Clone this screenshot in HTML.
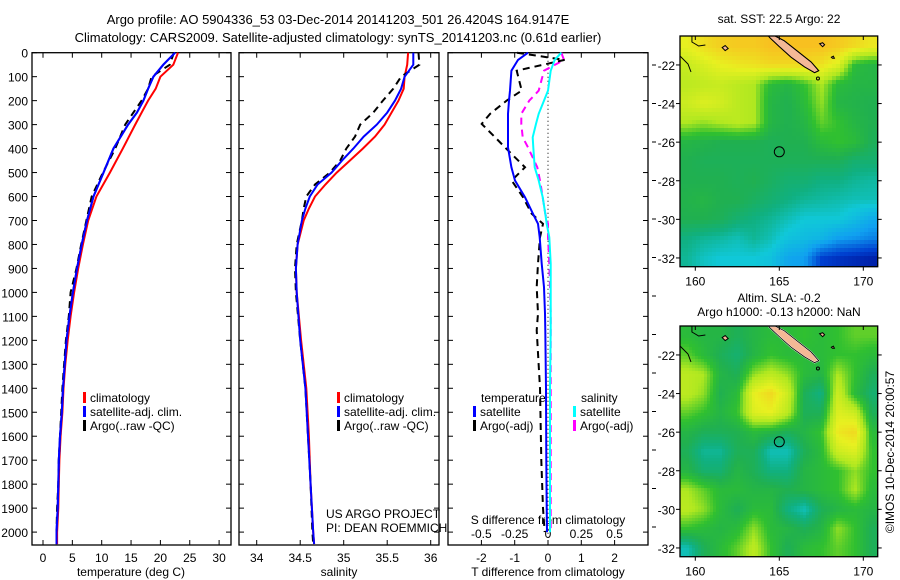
<!DOCTYPE html>
<html><head><meta charset="utf-8"><style>
html,body{margin:0;padding:0;background:#fff;}
svg{display:block;font-family:"Liberation Sans",sans-serif;}
</style></head><body>
<svg id="fig" width="900" height="580" viewBox="0 0 900 580" xmlns="http://www.w3.org/2000/svg">
<text x="338" y="24" font-size="13" text-anchor="middle">Argo profile: AO 5904336_53 03-Dec-2014 20141203_501 26.4204S 164.9147E</text>
<text x="338" y="42" font-size="13" text-anchor="middle">Climatology: CARS2009. Satellite-adjusted climatology: synTS_20141203.nc (0.61d earlier)</text>
<g id="plots"></g>
</svg>
<script>
// ---------- data ----------
const depthT = [0,50,100,150,200,250,300,400,500,600,700,800,900,1000,1100,1200,1300,1400,1500,1600,1700,1800,1900,2000,2050];
const tempClim = [23,22.2,20,19.2,17.9,16.8,15.7,13.6,11.4,9.1,7.7,6.8,6.0,5.3,4.7,4.2,3.8,3.5,3.3,3.0,2.8,2.7,2.6,2.4,2.4];
const tempSat  = [22.5,20.5,18.8,17.9,17.1,16,14.5,12,10.3,8.6,7.5,6.6,5.8,5.1,4.5,4.0,3.7,3.4,3.2,2.9,2.7,2.6,2.5,2.3,2.3];
const tempArgo = [22.3,21.6,18.5,17.9,16.8,15.4,14,12.3,10.2,8.3,7.4,6.5,5.7,4.7,4.4,3.9,3.6,3.3,3.1,2.9,2.7,2.6,2.4,2.3,2.3];
const depthS = [0,50,100,150,200,250,300,350,400,450,500,550,600,650,700,800,900,1000,1200,1400,1600,1800,2000,2050];
const salClim = [35.74,35.73,35.70,35.69,35.63,35.55,35.47,35.36,35.22,35.07,34.92,34.79,34.67,34.60,34.54,34.47,34.45,34.46,34.51,34.57,34.60,34.62,34.65,34.66];
const salSat  = [35.80,35.80,35.70,35.66,35.59,35.50,35.38,35.23,35.11,34.98,34.86,34.70,34.61,34.56,34.52,34.47,34.45,34.46,34.50,34.56,34.59,34.62,34.65,34.66];
const salArgo = [35.86,35.87,35.66,35.57,35.45,35.34,35.19,35.13,35.03,34.96,34.84,34.67,34.57,34.54,34.52,34.46,34.44,34.45,34.50,34.56,34.59,34.62,34.64,34.65];
const depthD = [0,30,75,158,200,255,297,353,395,478,533,603,672,714,770,880,978,1088,1158,1400,1700,1900,2000];
const dTsat  = [-0.6,-0.9,-1.1,-1.14,-1.17,-1.2,-1.2,-1.2,-1.2,-1.1,-0.99,-0.69,-0.45,-0.3,-0.25,-0.19,-0.12,-0.09,-0.08,-0.06,-0.05,-0.04,-0.03];
const dTargo = [-0.93,0.5,-0.94,-0.79,-1.24,-1.74,-1.99,-1.59,-1.29,-0.69,-1.09,-0.75,-0.49,-0.15,-0.24,-0.3,-0.34,-0.3,-0.34,-0.24,-0.2,-0.15,-0.1];
const dSsat  = [0.1,0.05,0.02,0,-0.03,-0.07,-0.09,-0.115,-0.11,-0.1,-0.07,-0.04,-0.02,-0.01,0.01,0.02,0.02,0.02,0.02,0.015,0.015,0.015,0.015];
const dSargo = [0.1,0.12,-0.03,-0.07,-0.14,-0.2,-0.2,-0.19,-0.15,-0.08,-0.06,-0.04,-0.02,0,0,0.01,0.015,0.02,0.02,0.02,0.02,0.02,0.02];
const depthTicks = [0,100,200,300,400,500,600,700,800,900,1000,1100,1200,1300,1400,1500,1600,1700,1800,1900,2000];
const tempTicks = [0,5,10,15,20,25,30];
const salTicks = [34,34.5,35,35.5,36];
const dTTicks = [-2,-1,0,1,2];
const dSTicks = [-0.5,-0.25,0,0.25,0.5];
const dSTickLabels = ["-0.5","-0.25","0","0.25","0.5"];
const sstGrid = [
[0.8,0.84,0.87,0.88,0.88,0.9,0.9,0.9,0.9,0.88,0.85,0.82],
[0.74,0.77,0.8,0.82,0.83,0.85,0.85,0.85,0.83,0.78,0.6,0.58],
[0.72,0.73,0.74,0.72,0.7,0.6,0.58,0.62,0.7,0.6,0.58,0.58],
[0.75,0.78,0.76,0.72,0.7,0.58,0.56,0.6,0.68,0.58,0.57,0.56],
[0.7,0.68,0.7,0.72,0.7,0.58,0.56,0.58,0.65,0.62,0.58,0.56],
[0.58,0.57,0.56,0.56,0.56,0.55,0.56,0.56,0.6,0.62,0.6,0.55],
[0.56,0.55,0.55,0.55,0.55,0.55,0.55,0.55,0.55,0.55,0.52,0.52],
[0.56,0.56,0.56,0.55,0.56,0.54,0.52,0.52,0.5,0.5,0.48,0.47],
[0.57,0.58,0.56,0.56,0.54,0.52,0.5,0.48,0.47,0.46,0.45,0.45],
[0.56,0.56,0.55,0.52,0.5,0.48,0.45,0.42,0.42,0.42,0.38,0.33],
[0.5,0.48,0.47,0.45,0.48,0.45,0.4,0.38,0.36,0.3,0.28,0.25],
[0.48,0.44,0.42,0.42,0.42,0.4,0.32,0.3,0.15,0.12,0.1,0.08]];
const slaGrid = [
[.6,.58,.58,.55,.58,.6,.6,.62,.6,.62,.65,.65],
[.65,.6,.55,.52,.58,.62,.6,.6,.6,.62,.62,.6],
[.72,.7,.58,.55,.68,.72,.68,.6,.58,.7,.62,.55],
[.72,.68,.56,.6,.8,.85,.75,.55,.5,.75,.6,.52],
[.65,.62,.58,.62,.78,.8,.72,.55,.55,.78,.75,.55],
[.58,.55,.55,.56,.6,.58,.55,.58,.62,.82,.85,.6],
[.55,.48,.48,.55,.55,.45,.45,.55,.6,.75,.78,.62],
[.58,.52,.52,.58,.55,.5,.5,.58,.6,.62,.68,.62],
[.7,.65,.6,.6,.58,.58,.56,.58,.6,.62,.7,.6],
[.72,.68,.6,.55,.6,.6,.5,.45,.55,.58,.6,.58],
[.62,.6,.58,.6,.68,.6,.58,.55,.58,.68,.62,.55],
[.45,.55,.6,.65,.72,.62,.55,.6,.62,.65,.62,.55]];
const floatLon = 165, floatLat = -26.5;
const lonTicks = [160,165,170];
const latTicks = [-22,-24,-26,-28,-30,-32];

// ---------- helpers ----------
const NS="http://www.w3.org/2000/svg";
const root=document.getElementById('plots');
function mk(tag,attrs,parent){const e=document.createElementNS(NS,tag);for(const k in attrs)e.setAttribute(k,attrs[k]);(parent||root).appendChild(e);return e;}
function txt(x,y,s,size,anchor,parent){const t=mk('text',{x:x,y:y,'font-size':size||12,'text-anchor':anchor||'start'},parent);t.textContent=s;return t;}
const yD = d => 52.7 + 0.2397*d;
const xT = t => 43 + 5.87*t;
const xS = s => 256.7 + 87*(s-34);
const xdT = t => 548 + 33.3*t;
const xdS = s => 548 + 133.3*s;
const TOP=52.7, BOT=545;

function frame(x0,x1,name){
  const r=mk('rect',{x:x0,y:TOP,width:x1-x0,height:BOT-TOP,fill:'none',stroke:'#000','stroke-width':1.3});
  
  
  depthTicks.forEach(d=>{
    mk('line',{x1:x0,x2:x0+5,y1:yD(d),y2:yD(d),stroke:'#000'});
    mk('line',{x1:x1,x2:x1-5,y1:yD(d),y2:yD(d),stroke:'#000'});
  });
}
function xticks(vals,fx,labels,name){
  const g=mk('g',{});
  
  
  vals.forEach((v,i)=>{
    mk('line',{x1:fx(v),x2:fx(v),y1:TOP,y2:TOP+5,stroke:'#000'},g);
    mk('line',{x1:fx(v),x2:fx(v),y1:BOT,y2:BOT-5,stroke:'#000'},g);
    txt(fx(v),562,labels?labels[i]:String(v),12,'middle',g);
  });
}
function line(xs,ds,fx,color,dash,name,w){
  const pts=xs.map((v,i)=>fx(v).toFixed(1)+','+yD(ds[i]).toFixed(1)).join(' ');
  const p=mk('polyline',{points:pts,fill:'none',stroke:color,'stroke-width':w||2,'stroke-dasharray':dash||'none'});
  
  
}
function legend(x,y,color,label,name){
  const g=mk('g',{});
  
  
  mk('rect',{x:x,y:y-10,width:3,height:11,fill:color},g);
  txt(x+7,y,label,12,'start',g);
}

const yax=mk('g',{});


depthTicks.forEach(d=>txt(28,yD(d)+5,String(d),12,'end',yax));

frame(32,231,'temperature-panel');
xticks(tempTicks,xT,null,'temperature-x-axis');
txt(131,576,'temperature (deg C)',12,'middle');
line(tempClim,depthT,xT,'#ff0000',null,'temp-climatology-line');
line(tempSat,depthT,xT,'#0000ff',null,'temp-satellite-line');
line(tempArgo,depthT,xT,'#000000','7,5','temp-argo-line');
line(tempSat,depthT,xT,'#0000ff',null,'temp-satellite-line-top',2);
legend(83,402,'#ff0000','climatology','legend-climatology-1');
legend(83,416,'#0000ff','satellite-adj. clim.','legend-satellite-1');
legend(83,430,'#000000','Argo(..raw -QC)','legend-argo-1');

frame(239,439,'salinity-panel');
xticks(salTicks,xS,null,'salinity-x-axis');
txt(339,576,'salinity',12,'middle');
line(salClim,depthS,xS,'#ff0000',null,'sal-climatology-line');
line(salArgo,depthS,xS,'#000000','7,5','sal-argo-line');
line(salSat,depthS,xS,'#0000ff',null,'sal-satellite-line');
legend(337,402,'#ff0000','climatology','legend-climatology-2');
legend(337,416,'#0000ff','satellite-adj. clim.','legend-satellite-2');
legend(337,430,'#000000','Argo(..raw -QC)','legend-argo-2');
txt(326,518,'US ARGO PROJECT',12);
txt(326,532,'PI: DEAN ROEMMICH',12);

frame(448,648,'difference-panel');
xticks(dTTicks,xdT,null,'t-difference-x-axis');
txt(548,576,'T difference from climatology',12,'middle');
const sax=mk('g',{});


txt(548,524,'S difference from climatology',12,'middle',sax);
dSTicks.forEach((v,i)=>txt(xdS(v),538,dSTickLabels[i],12,'middle',sax));
mk('line',{x1:xdT(0),x2:xdT(0),y1:TOP,y2:BOT,stroke:'#000','stroke-dasharray':'1,3'});
line(dSargo,depthD,xdS,'#ff00ff','7,5','s-diff-argo-line');
line(dTargo,depthD,xdT,'#000000','7,5','t-diff-argo-line');
line(dSsat,depthD,xdS,'#00ffff',null,'s-diff-satellite-line');
line(dTsat,depthD,xdT,'#0000ff',null,'t-diff-satellite-line');
txt(481,402,'temperature',12);
legend(473,416,'#0000ff','satellite','legend-t-satellite');
legend(473,430,'#000000','Argo(-adj)','legend-t-argo');
txt(581,402,'salinity',12);
legend(573,416,'#00ffff','satellite','legend-s-satellite');
legend(573,430,'#ff00ff','Argo(-adj)','legend-s-argo');
for(let y=65;y<560;y+=38.5) mk('line',{x1:652,x2:656,y1:y,y2:y,stroke:'#000'});

const cmapStops=[[0,[0,0,128]],[0.15,[0,64,208]],[0.3,[16,160,240]],[0.42,[16,200,216]],[0.5,[16,176,128]],[0.56,[32,176,80]],[0.62,[48,192,48]],[0.7,[176,232,32]],[0.8,[232,240,32]],[0.9,[248,192,32]],[1,[240,128,32]]];
function cmap(v){v=Math.max(0,Math.min(1,v));for(let i=1;i<cmapStops.length;i++){if(v<=cmapStops[i][0]){const a=cmapStops[i-1],b=cmapStops[i];const f=(v-a[0])/(b[0]-a[0]);return 'rgb('+a[1].map((c,k)=>Math.round(c+(b[1][k]-c)*f)).join(',')+')';}}return 'rgb(240,128,32)';}
function bil(grid,lon,lat){
  let c=(lon-159.5), r=(-21-lat);
  c=Math.max(0,Math.min(11,c)); r=Math.max(0,Math.min(11,r));
  const c0=Math.floor(c),r0=Math.floor(r),c1=Math.min(11,c0+1),r1=Math.min(11,r0+1),fc=c-c0,fr=r-r0;
  return grid[r0][c0]*(1-fc)*(1-fr)+grid[r0][c1]*fc*(1-fr)+grid[r1][c0]*(1-fc)*fr+grid[r1][c1]*fc*fr;
}
function drawMap(grid,top,name,cell,white){
  const L=680,R=877.7,bot=top+230.7;
  const xl=lon=>779.3+16.8*(lon-165);
  const yl=lat=>top+(-20.5-lat)*19.3;
  const g=mk('g',{});
  
  
  for(let y=top;y<bot;y+=cell){for(let x=L;x<R;x+=cell){
    const lon=165+(x+cell/2-779.3)/16.8, lat=-20.5-(y+cell/2-top)/19.3;
    mk('rect',{x:x,y:y,width:Math.min(cell,R-x)+0.4,height:Math.min(cell,bot-y)+0.4,fill:cmap(bil(grid,lon,lat))},g);
  }}
  const island=[[164.75,-20.5],[165.3,-20.75],[166.1,-21.3],[166.9,-21.85],[167.35,-22.3],[167.1,-22.4],[166.5,-22.1],[165.7,-21.6],[165.0,-21.05],[164.45,-20.6],[164.35,-20.5]];
  const isl=mk('polygon',{points:island.map(p=>xl(p[0])+','+yl(p[1])).join(' '),fill:'#f4b896',stroke:white?'#fff':'#000','stroke-width':white?1.5:1},g);
  
  
  mk('polygon',{points:island.map(p=>xl(p[0])+','+yl(p[1])).join(' '),fill:'none',stroke:'#000','stroke-width':0.8},g);
  mk('path',{d:`M${xl(167.4)},${yl(-20.9)} l3,-1 l2,2 l-2,2 z M${xl(168.1)},${yl(-21.6)} l2,-1 l1,2 l-2,0 z M${xl(161.6)},${yl(-21.1)} l3,-2 l3,3 l-3,2 z`,fill:'#f4b896',stroke:'#000','stroke-width':1},g);
  mk('polyline',{points:`${L},${top+20} ${L+8},${top+28} ${L+11},${top+36}`,fill:'none',stroke:'#000'},g);
  mk('polyline',{points:`${xl(159.8)},${top} ${xl(159.8)},${top+6} ${xl(160.2)},${top+10} ${xl(160.6)},${top+9}`,fill:'none',stroke:'#000'},g);
  mk('circle',{cx:xl(167.3),cy:yl(-22.7),r:1.5,fill:'none',stroke:'#000'},g);
  const fc=mk('circle',{cx:xl(floatLon),cy:yl(floatLat),r:5,fill:'none',stroke:'#000','stroke-width':1},g);
  
  
  mk('rect',{x:L,y:top,width:R-L,height:bot-top,fill:'none',stroke:'#000','stroke-width':1.3},g);
  lonTicks.forEach(v=>{mk('line',{x1:xl(v),x2:xl(v),y1:bot,y2:bot+4,stroke:'#000'},g);mk('line',{x1:xl(v),x2:xl(v),y1:top,y2:top+4,stroke:'#000'},g);txt(xl(v),bot+19,String(v),12,'middle',g);});
  latTicks.forEach(v=>{mk('line',{x1:L-4,x2:L,y1:yl(v),y2:yl(v),stroke:'#000'},g);mk('line',{x1:R,x2:R+4,y1:yl(v),y2:yl(v),stroke:'#000'},g);txt(L-5,yl(v)+5,String(v),12,'end',g);});
}
drawMap(sstGrid,36,'sst-map',4,false);
drawMap(slaGrid,326,'sla-map',3,true);
txt(779,23,'sat. SST: 22.5 Argo: 22',12,'middle');
txt(779,302,'Altim. SLA: -0.2',12,'middle');
txt(779,316,'Argo h1000: -0.13 h2000: NaN',12,'middle');
const imos=txt(0,0,'©IMOS 10-Dec-2014 20:00:57',12,'middle');
imos.setAttribute('transform','translate(894,452) rotate(-90)');


</script>
</body></html>
